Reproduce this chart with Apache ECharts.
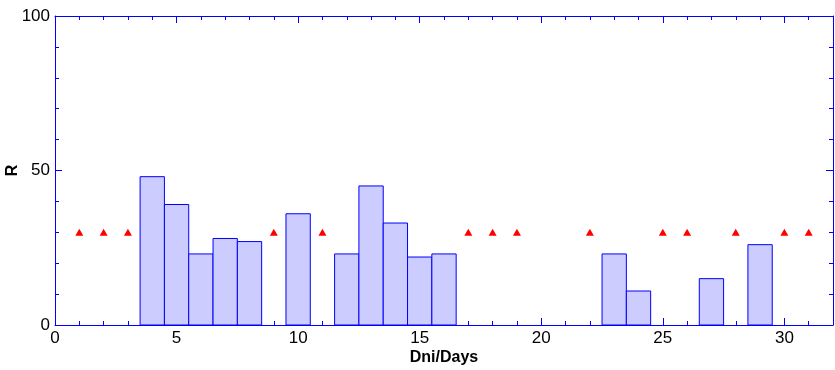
<!DOCTYPE html>
<html><head><meta charset="utf-8">
<script src="https://cdn.jsdelivr.net/npm/echarts@6/dist/echarts.min.js"></script>
<style>html,body{margin:0;padding:0;background:#fff}#c{width:835px;height:370px}</style>
</head><body><div id="c"></div>
<script>
const barDays = [4, 5, 6, 7, 8, 10, 12, 13, 14, 15, 16, 23, 24, 27, 29];
const barValues = [48, 39, 23, 28, 27, 36, 23, 45, 33, 22, 23, 23, 11, 15, 26];
const markerDays = [1, 2, 3, 9, 11, 17, 18, 19, 22, 25, 26, 28, 30, 31];
const markerValue = 30;
const xTicks = [0, 5, 10, 15, 20, 25, 30];
const yTicks = [0, 50, 100];

const chart = echarts.init(document.getElementById('c'), null, {renderer: 'canvas'});
const blue = '#0000ff';
const lblFont = {color: '#000', fontFamily: 'Liberation Sans', fontSize: 17};
function axisBase(extra) {
  return Object.assign({
    axisLine: {show: true, onZero: false, lineStyle: {color: blue, width: 1}},
    axisTick: {show: true, inside: true, length: 7, lineStyle: {color: blue, width: 1}},
    minorTick: {show: true, splitNumber: 5, length: 4, lineStyle: {color: '#0000ff', width: 1, opacity: 1}},
    splitLine: {show: false},
    minorSplitLine: {show: false}
  }, extra);
}
const option = {
  animation: false,
  grid: {left: 55, right: 2, top: 16, bottom: 45, containLabel: false, outerBoundsMode: 'none'},
  xAxis: [
    axisBase({type: 'value', position: 'bottom', min: 0, max: 32, interval: 5,
      name: 'Dni/Days', nameLocation: 'middle', nameGap: 25, nameMoveOverlap: false,
      nameTextStyle: {color: '#000', fontFamily: 'Liberation Sans', fontSize: 16, fontWeight: 'bold'},
      axisLabel: Object.assign({margin: 5, formatter: v => xTicks.includes(v) ? String(v) : ''}, lblFont)}),
    axisBase({type: 'value', position: 'top', min: 0, max: 32, interval: 5,
      axisLabel: {show: false}})
  ],
  yAxis: [
    axisBase({type: 'value', position: 'left', min: 0, max: 100, interval: 50,
      name: 'R', nameLocation: 'middle', nameGap: 34, nameRotate: 90, nameMoveOverlap: false,
      nameTextStyle: {color: '#000', fontFamily: 'Liberation Sans', fontSize: 16, fontWeight: 'bold'},
      axisLabel: Object.assign({margin: 5, formatter: v => yTicks.includes(v) ? String(v) : ''}, lblFont)}),
    axisBase({type: 'value', position: 'right', min: 0, max: 100, interval: 50,
      axisLabel: {show: false}})
  ],
  series: [
    {
      type: 'custom',
      xAxisIndex: 0, yAxisIndex: 0,
      data: barDays.map((d, i) => [d, barValues[i]]),
      renderItem: function (params, api) {
        const d = api.value(0), v = api.value(1);
        const p0 = api.coord([d - 0.5, v]);
        const p1 = api.coord([d + 0.5, 0]);
        return {
          type: 'rect',
          shape: {x: p0[0], y: p0[1], width: p1[0] - p0[0], height: p1[1] - p0[1]},
          style: {fill: '#ccccff', stroke: blue, lineWidth: 1}
        };
      },
      z: 2
    },
    {
      type: 'scatter',
      xAxisIndex: 0, yAxisIndex: 0,
      symbol: 'triangle',
      symbolSize: [8, 7],
      itemStyle: {color: '#ff0000', opacity: 1},
      data: markerDays.map(d => [d, markerValue]),
      z: 3
    }
  ]
};
chart.setOption(option);
</script>
</body></html>
